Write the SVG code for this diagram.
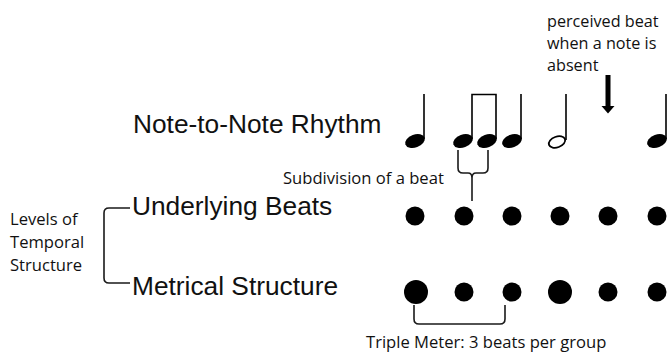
<svg xmlns="http://www.w3.org/2000/svg" width="667" height="357" viewBox="0 0 667 357">
  <style>
    .big { font-family: "Liberation Sans", Arial, sans-serif; font-size: 26.3px; fill: #111; }
    .small { font-family: "Open Sans", "Noto Sans", sans-serif; font-size: 16.6px; fill: #111; }
    .note-label { font-family: "Open Sans", "Noto Sans", sans-serif; font-size: 16.2px; fill: #111; }
    .stem { stroke: #000; stroke-width: 1.6; fill: none; }
    .brace { stroke: #1a1a1a; stroke-width: 1.6; fill: none; stroke-linejoin: round; }
    .dot { fill: #000; }
  </style>
  <defs>
    <ellipse id="head" rx="10.2" ry="6.5" transform="rotate(-20)"/>
  </defs>

  <rect width="667" height="357" fill="#fff"/>

  <!-- level labels -->
  <g id="label-rhythm"><text class="big" x="133" y="133">Note-to-Note Rhythm</text></g>
  <g id="label-beats"><text class="big" x="132" y="215">Underlying Beats</text></g>
  <g id="label-metre"><text class="big" x="132" y="295">Metrical Structure</text></g>

  <g id="label-levels">
    <text class="small" x="10" y="225">Levels of<tspan x="10" dy="23">Temporal</tspan><tspan x="10" dy="23">Structure</tspan></text>
  </g>

  <g id="label-perceived">
    <text class="note-label" x="547" y="27">perceived beat<tspan x="547" dy="22.2">when a note is</tspan><tspan x="547" dy="22.2">absent</tspan></text>
  </g>

  <g id="label-subdivision"><text class="small" x="283" y="184">Subdivision of a beat</text></g>
  <g id="label-triple"><text class="small" x="366" y="348">Triple Meter: 3 beats per group</text></g>

  <!-- note-to-note rhythm -->
  <g id="notes">
    <use href="#head" x="415" y="141"/>
    <line class="stem" x1="424" y1="94" x2="424" y2="139"/>

    <use href="#head" x="463" y="141"/>
    <use href="#head" x="487" y="141"/>
    <path class="stem" d="M472 139 V94.5 H496 V139"/>

    <use href="#head" x="512" y="141"/>
    <line class="stem" x1="521" y1="94" x2="521" y2="139"/>

    <g transform="translate(557 142) rotate(-20)">
      <ellipse rx="8.5" ry="5.3" fill="none" stroke="#000" stroke-width="1.8"/>
    </g>
    <line class="stem" x1="566" y1="94" x2="566" y2="140"/>

    <use href="#head" x="657" y="141"/>
    <line class="stem" x1="666" y1="94" x2="666" y2="139"/>
  </g>

  <!-- underlying beats -->
  <g id="beats">
    <circle class="dot" cx="415" cy="216" r="9.5"/>
    <circle class="dot" cx="464" cy="216" r="9.5"/>
    <circle class="dot" cx="512" cy="216" r="9.5"/>
    <circle class="dot" cx="560" cy="216" r="9.5"/>
    <circle class="dot" cx="608" cy="216" r="9.5"/>
    <circle class="dot" cx="657" cy="216" r="9.5"/>
  </g>

  <!-- metrical structure: strong beats larger -->
  <g id="metre">
    <circle class="dot" cx="416" cy="292" r="12"/>
    <circle class="dot" cx="464" cy="292" r="9.5"/>
    <circle class="dot" cx="512" cy="292" r="9.5"/>
    <circle class="dot" cx="560" cy="292" r="12"/>
    <circle class="dot" cx="608" cy="292" r="9.5"/>
    <circle class="dot" cx="657" cy="292" r="9.5"/>
  </g>

  <g id="connectors">
    <!-- levels bracket -->
    <path class="brace" d="M130 208 H109 Q104 208 104 213 V278 Q104 283 109 283 H130"/>
    <!-- subdivision brace -->
    <path class="brace" d="M458 150 V168 Q458 173 463 173 H468 Q472 173 472 178 V201 M472 178 Q472 173 476 173 H483 Q488 173 488 168 V150"/>
    <!-- triple meter bracket -->
    <path class="brace" d="M414 305 V319 Q414 324 419 324 H500 Q505 324 505 319 V305"/>
    <!-- perceived beat arrow -->
    <rect x="605.5" y="75" width="5" height="32" fill="#000"/>
    <polygon points="601.5,106 614.5,106 608,113.5" fill="#000"/>
  </g>
</svg>
